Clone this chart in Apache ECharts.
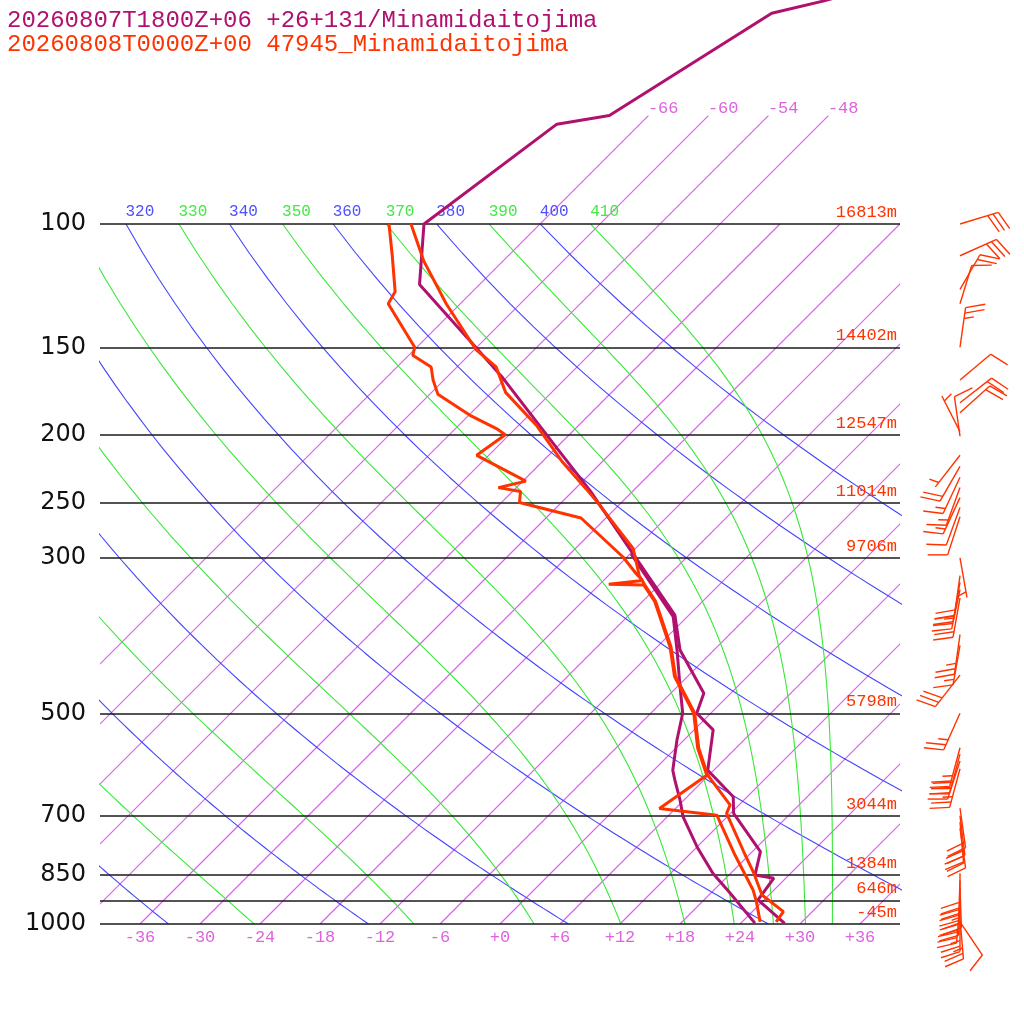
<!DOCTYPE html>
<html>
<head>
<meta charset="utf-8">
<title>Skew-T Minamidaitojima</title>
<script src="https://cdn.jsdelivr.net/npm/echarts@6.0.0/dist/echarts.min.js"></script>
<style>html,body{margin:0;padding:0;background:#fff}</style>
</head>
<body>
<div id="main" style="width:1024px;height:1024px;"></div>
<script type="text/javascript">

// pressure levels drawn as black lines, and the heights printed on them
var levelP = [100, 150, 200, 250, 300, 500, 700, 850, 925, 1000];
var levelHeight = ['16813m', '14402m', '12547m', '11014m', '9706m', '5798m', '3044m', '1384m', '646m', '-45m'];

// temperature ticks along the bottom
var tempTicks = [-36, -30, -24, -18, -12, -6, 0, 6, 12, 18, 24, 30, 36];

// background lines
var isotherms = [-66, -60, -54, -48, -42, -36, -30, -24, -18, -12, -6, 0, 6, 12, 18, 24, 30, 36];
var isothermTopLabels = [-66, -60, -54, -48];
var dryTheta = [240, 260, 280, 300, 320, 340, 360, 380, 400];
var dryThetaLabels = [320, 340, 360, 380, 400];
var moistThetaE = [250, 270, 290, 310, 330, 350, 370, 390, 410];
var moistThetaELabels = [330, 350, 370, 390, 410];

// forecast profile (magenta)
var fcP = [998, 924, 860, 851, 788, 695, 658, 603, 528, 500, 468, 406, 362, 296, 241, 209, 166, 150, 122, 100, 72, 70, 50, 48, 46];
var fcT = [28.4, 23.4, 22.8, 20.6, 18.8, 12.3, 10.6, 5.4, 1.9, -1.4, -2.7, -9.4, -13.4, -23.7, -34.2, -41.9, -54.3, -60.1, -72.0, -77.6, -74.3, -69.9, -63.9, -59.9, -56.6];
var fcTdP = [997, 903, 846, 776, 703, 665, 623, 603, 546, 500, 453, 406, 364, 296];
var fcTd = [25.4, 19.9, 16.2, 12.0, 7.6, 5.6, 3.1, 1.9, -0.7, -2.8, -6.1, -9.7, -13.4, -23.9];

// observed sounding (red)
var obP = [993, 960, 909, 846, 793, 695, 676, 613, 561, 500, 443, 402, 346, 328, 318, 291, 249, 239, 219, 194, 174, 160, 151, 130, 113, 100];
var obT = [27.4, 27.1, 23.3, 20.3, 17.4, 11.6, 11.1, 5.9, 2.3, -1.6, -7.2, -10.6, -16.7, -19.4, -20.9, -24.2, -32.6, -34.9, -39.9, -46.2, -52.6, -56.1, -59.9, -67.4, -73.9, -78.9];
var obTdP = [993, 929, 894, 797, 699, 684, 613, 561, 500, 443, 402, 346, 328, 327, 323, 316, 299, 263, 250, 241, 238, 233, 214, 200, 196, 188, 175, 167, 160, 154, 150, 130, 125, 111, 100];
var obTd = [25.8, 23.4, 21.9, 16.6, 10.8, 4.4, 5.8, 2.2, -1.7, -7.3, -10.7, -16.8, -19.5, -23.1, -20.1, -21.4, -24.4, -32.5, -40.2, -41.2, -43.8, -41.7, -49.2, -48.4, -49.9, -53.7, -59.2, -61.1, -62.6, -65.6, -66.2, -73.2, -73.7, -77.6, -81.1];

// observed winds: pressure, direction (deg), speed (kt)
var barbP = [100, 111, 124, 130, 150, 167, 180, 186, 198, 201, 214, 222, 230, 238, 246, 254, 262, 300, 318, 325, 333, 342, 386, 400, 441, 500, 560, 572, 585, 600, 683, 700, 715, 730, 846, 867, 888, 910, 934, 960, 984, 993];
var barbDir = [73, 66, 30, 17, 8, 50, 52, 48, 333, 352, 218, 210, 205, 200, 205, 200, 198, 170, 188, 190, 192, 190, 188, 190, 218, 204, 195, 195, 198, 195, 172, 173, 175, 172, 180, 182, 178, 182, 185, 180, 175, 146];
var barbSpd = [30, 30, 20, 10, 25, 10, 20, 20, 5, 10, 5, 20, 15, 15, 15, 10, 10, 5, 20, 20, 25, 20, 25, 15, 30, 25, 25, 30, 30, 25, 20, 20, 25, 20, 30, 30, 25, 30, 30, 25, 25, 10];

var titleFc = '20260807T1800Z+06 +26+131/Minamidaitojima';
var titleOb = '20260808T0000Z+00 47945_Minamidaitojima';

// ---- diagram geometry ----
var SKEW = 30.4;                          // 45 degree isotherms
var P_TOP = 1000 * Math.exp(-924 / 304);  // pressure at the top edge of the picture
var MONO = '"Liberation Mono", "DejaVu Sans Mono", monospace';
var RED = '#ff3300', MAG = '#b0106e';
var ISO = '#e05cf4', BLUE = '#4444ff', GREEN = '#38e838';
var TICK = '#de64de';

function skewX(t, p) { return t + SKEW * Math.log(1000 / p); }
function pt(t, p) { return [skewX(t, p), p]; }

function satThetaE(tk, p) {
    var tc = tk - 273.15;
    var es = 6.112 * Math.exp(17.67 * tc / (tc + 243.5));
    if (es > 0.5 * p) es = 0.5 * p;
    var r = 622 * es / (p - es);
    return tk * Math.pow(1000 / p, 0.2854 * (1 - 0.00028 * r)) *
        Math.exp((3.376 / tk - 0.00254) * r * (1 + 0.00081 * r));
}
function moistT(te, p) {
    var lo = 140, hi = 340;
    for (var i = 0; i < 50; i++) {
        var mid = (lo + hi) / 2;
        if (satThetaE(mid, p) > te) hi = mid; else lo = mid;
    }
    return (lo + hi) / 2 - 273.15;
}
function dryT(th, p) { return th * Math.pow(p / 1000, 0.2857) - 273.15; }

var curveP = [];
for (var q = 1000; q >= 100; q -= 10) curveP.push(q);

function bgLine(data, color) {
    return {
        type: 'line', silent: true, showSymbol: false, clip: true, z: 1,
        color: color,
        lineStyle: { color: color, width: 1.1, opacity: 1 },
        data: data
    };
}

var series = [];

// isotherms: straight segments drawn through the axes, clipped to the grid
series.push({
    type: 'custom', silent: true, z: 1, clip: true,
    encode: { x: 0, y: 1 },
    data: isotherms.map(function (t) {
        var top = isothermTopLabels.indexOf(t) >= 0 ? 70 : 100;
        return [t, top];
    }),
    renderItem: function (params, api) {
        var t = api.value(0), top = api.value(1);
        var a = api.coord(pt(t, 1000)), b = api.coord(pt(t, top));
        return {
            type: 'line',
            shape: { x1: a[0], y1: a[1], x2: b[0], y2: b[1] },
            style: { stroke: ISO, lineWidth: 1.2, fill: null }
        };
    }
});
dryTheta.forEach(function (th) {
    series.push(bgLine(curveP.map(function (p) { return pt(dryT(th, p), p); }), BLUE));
});
moistThetaE.forEach(function (te) {
    series.push(bgLine(curveP.map(function (p) { return pt(moistT(te, p), p); }), GREEN));
});

function labelSeries(items, fontSize, offset) {
    return {
        type: 'scatter', silent: true, symbolSize: 1, z: 3,
        itemStyle: { color: 'rgba(0,0,0,0)', opacity: 1 },
        label: {
            show: true, formatter: '{b}', position: offset, opacity: 1,
            fontFamily: MONO, fontSize: fontSize
        },
        labelLayout: { hideOverlap: false },
        data: items
    };
}
series.push(labelSeries(isothermTopLabels.map(function (t) {
    return { name: String(t), value: pt(t, 70), label: { color: TICK } };
}), 17, [0, -15]));
series.push(labelSeries(
    dryThetaLabels.map(function (th) {
        return { name: String(th), value: pt(dryT(th, 100), 100), label: { color: '#4f4fff' } };
    }).concat(moistThetaELabels.map(function (te) {
        return { name: String(te), value: pt(moistT(te, 100), 100), label: { color: '#44e844' } };
    })), 16, [0, -20]));

// pressure lines with heights
series.push({
    type: 'line', data: [], z: 2,
    markLine: {
        silent: true, animation: false, symbol: ['none', 'none'],
        lineStyle: { color: '#1a1a1a', width: 1.6, type: 'solid' },
        label: {
            show: true, position: 'insideEndTop', distance: 3,
            color: RED, fontFamily: MONO, fontSize: 17
        },
        data: levelP.map(function (p, i) {
            return { yAxis: p, label: { formatter: levelHeight[i] } };
        })
    }
});

function profile(ps, ts, color) {
    return {
        type: 'line', silent: true, showSymbol: false, clip: false, z: 5,
        color: color,
        lineStyle: { color: color, width: 3 },
        data: ps.map(function (p, i) { return pt(ts[i], p); })
    };
}
series.push(profile(fcTdP, fcTd, MAG));
series.push(profile(fcP, fcT, MAG));
series.push(profile(obTdP, obTd, RED));
series.push(profile(obP, obT, RED));

// wind barbs in a column right of the diagram
series.push({
    type: 'custom', silent: true, z: 6, clip: false,
    encode: { x: 0, y: 1 },
    data: barbP.map(function (p, i) { return [46, p, barbDir[i], barbSpd[i]]; }),
    renderItem: function (params, api) {
        var base = api.coord([api.value(0), api.value(1)]);
        var d = api.value(2) * Math.PI / 180, spd = api.value(3);
        var ux = Math.sin(d), uy = -Math.cos(d);
        var L = 40, F = 20, gap = 5.5, a = 72 * Math.PI / 180;
        var fx = ux * Math.cos(a) - uy * Math.sin(a);
        var fy = ux * Math.sin(a) + uy * Math.cos(a);
        var tx = base[0] + ux * L, ty = base[1] + uy * L;
        var st = { stroke: RED, lineWidth: 1.4 };
        var kids = [{ type: 'line', shape: { x1: base[0], y1: base[1], x2: tx, y2: ty }, style: st }];
        var s = Math.round(spd / 5) * 5, k = 0;
        function feather(len) {
            var sx = tx - ux * gap * k, sy = ty - uy * gap * k;
            kids.push({ type: 'line', shape: { x1: sx, y1: sy, x2: sx + fx * len, y2: sy + fy * len }, style: st });
        }
        while (s >= 10) { feather(F); k++; s -= 10; }
        if (s >= 5) { if (k === 0) k = 1; feather(F / 2); }
        return { type: 'group', children: kids };
    }
});

var chart = echarts.init(document.getElementById('main'));
chart.setOption({
    animation: false,
    backgroundColor: '#ffffff',
    title: {
        text: titleFc, subtext: titleOb, left: 2, top: 4, itemGap: 0,
        textStyle: { color: MAG, fontFamily: MONO, fontSize: 24, fontWeight: 'normal', lineHeight: 24 },
        subtextStyle: { color: RED, fontFamily: MONO, fontSize: 24, lineHeight: 24 }
    },
    grid: { left: 100, right: 124, top: 0, bottom: 100, containLabel: false, outerBoundsMode: 'none' },
    xAxis: {
        type: 'value', min: -40, max: 40,
        axisLine: { show: false }, axisTick: { show: false }, splitLine: { show: false },
        axisLabel: {
            customValues: tempTicks, margin: 5,
            color: TICK, fontFamily: MONO, fontSize: 17,
            formatter: function (v) { return v >= 0 ? '+' + v : String(v); }
        }
    },
    yAxis: {
        type: 'log', logBase: 10, inverse: true, min: P_TOP, max: 1000.001,
        axisLine: { show: false }, axisTick: { show: false }, splitLine: { show: false },
        axisLabel: {
            customValues: levelP, margin: 14, showMaxLabel: true,
            color: '#111', fontFamily: '"DejaVu Sans", sans-serif', fontSize: 24,
            verticalAlign: 'middle', padding: [0, 0, 16, 0],
            formatter: function (v) { return String(Math.round(v)); }
        }
    },
    series: series
});
</script>
</body>
</html>
